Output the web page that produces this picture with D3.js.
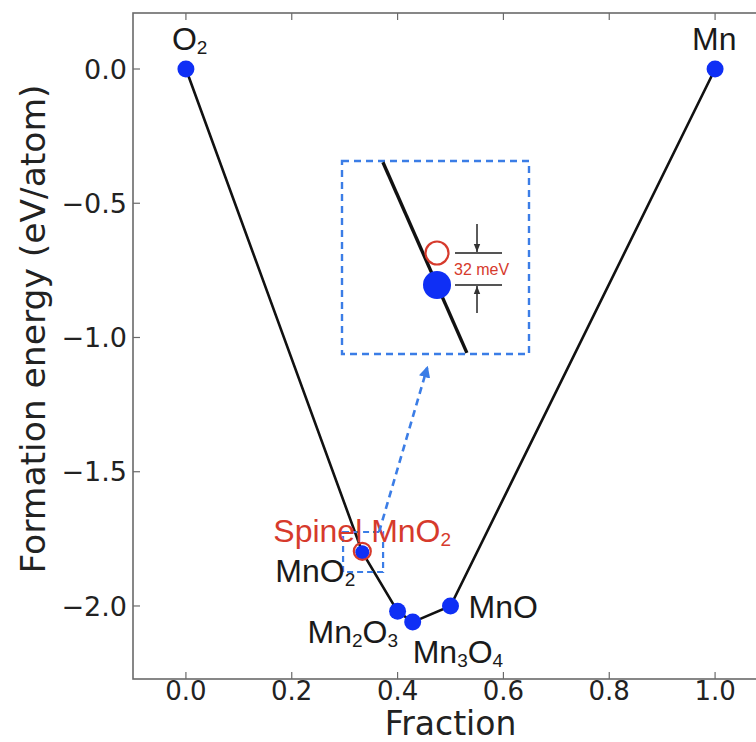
<!DOCTYPE html>
<html><head><meta charset="utf-8">
<script src="https://cdn.jsdelivr.net/npm/d3@7"></script>
<style>body{margin:0;background:#fff}svg{display:block}</style>
</head><body><svg id="c" width="756" height="742"></svg>
<script>
// ---- data ----
const names     = ["O2", "MnO2", "Mn2O3", "Mn3O4", "MnO", "Mn"];
const fractions = [0, 1/3, 0.4, 3/7, 0.5, 1.0];
const energies  = [0, -1.80, -2.02, -2.06, -2.00, 0];
const labelParts = {
  "O2":    [["O",0],["2",1]],
  "MnO2":  [["MnO",0],["2",1]],
  "Mn2O3": [["Mn",0],["2",1],["O",0],["3",1]],
  "Mn3O4": [["Mn",0],["3",1],["O",0],["4",1]],
  "MnO":   [["MnO",0]],
  "Mn":    [["Mn",0]]
};
const spinelLabel = [["Spinel MnO",0],["2",1]];
const spinelFraction = 1/3;
const spinelAboveHull = 0.032;           // eV/atom
const gapLabel = "32 meV";
const xTicks = [0.0, 0.2, 0.4, 0.6, 0.8, 1.0];
const yTicks = [0.0, -0.5, -1.0, -1.5, -2.0];
const xDomain = [-0.1, 1.1];
const yDomain = [-2.272, 0.2086];
const zoomBoxX = [0.297, 0.3726];         // region magnified in inset
const zoomBoxY = [-1.7244, -1.8734];
const insetXDomain = [0.2934, 0.3720];
const insetYDomain = [-1.676, -1.869];
const insetLineSpan = [0.3106, 0.3459];
const arrowFrom = [0.365, -1.7244];
const arrowTo   = [0.4558, -1.1136];

// ---- layout ----
const svg = d3.select("#c");
const L = 133, R = 768, T = 13, B = 679;
const x = d3.scaleLinear().domain(xDomain).range([L, R]);
const y = d3.scaleLinear().domain(yDomain).range([B, T]);
const blue = "#0f2ff5", red = "#d63a2c", dashBlue = "#3b7de6", spine = "#6a6a6a";
const tickFont = "'DejaVu Sans', sans-serif";
const labFont = "'Liberation Sans', Arial, sans-serif";

// label placement (pixel offsets from point)
const labelPos = {
  "O2":    [-14, -19],
  "Mn":    [-23, -19],
  "MnO2":  [-87, 30],
  "Mn2O3": [-90, 32],
  "Mn3O4": [0, 41],
  "MnO":   [18, 12]
};

// spines
svg.append("rect").attr("x", L).attr("y", T).attr("width", R - L).attr("height", B - T)
  .attr("fill", "none").attr("stroke", spine).attr("stroke-width", 1.6);

// ticks (inward on all sides)
const tl = 7;
xTicks.forEach(v => {
  svg.append("line").attr("x1", x(v)).attr("x2", x(v)).attr("y1", B).attr("y2", B - tl).attr("stroke", spine).attr("stroke-width", 1.2);
  svg.append("line").attr("x1", x(v)).attr("x2", x(v)).attr("y1", T).attr("y2", T + tl).attr("stroke", spine).attr("stroke-width", 1.2);
  svg.append("text").attr("x", x(v)).attr("y", B + 21).attr("text-anchor", "middle")
    .attr("font-family", tickFont).attr("font-size", 26).attr("fill", "#222").text(d3.format(".1f")(v));
});
yTicks.forEach(v => {
  svg.append("line").attr("x1", L).attr("x2", L + tl).attr("y1", y(v)).attr("y2", y(v)).attr("stroke", spine).attr("stroke-width", 1.2);
  svg.append("line").attr("x1", R).attr("x2", R - tl).attr("y1", y(v)).attr("y2", y(v)).attr("stroke", spine).attr("stroke-width", 1.2);
  svg.append("text").attr("x", L - 6).attr("y", y(v)).attr("dy", "0.36em").attr("text-anchor", "end")
    .attr("font-family", tickFont).attr("font-size", 27).attr("fill", "#222").text(d3.format(".1f")(v).replace("-", "\u2212"));
});

// axis titles
svg.append("text").attr("x", (x(0) + x(1)) / 2).attr("y", 734.5).attr("text-anchor", "middle")
  .attr("font-family", tickFont).attr("font-size", 33).attr("fill", "#222").text("Fraction");
svg.append("text").attr("transform", "translate(45," + 329 + ") rotate(-90)").attr("text-anchor", "middle")
  .attr("font-family", tickFont).attr("font-size", 34.5).attr("fill", "#222").text("Formation energy (eV/atom)");

// hull line
const pts = fractions.map((f, i) => [f, energies[i]]);
svg.append("path").datum(pts).attr("d", d3.line().x(d => x(d[0])).y(d => y(d[1])))
  .attr("fill", "none").attr("stroke", "#111").attr("stroke-width", 2.6);

// small dashed zoom box
svg.append("rect").attr("x", x(zoomBoxX[0])).attr("y", y(zoomBoxY[0]))
  .attr("width", x(zoomBoxX[1]) - x(zoomBoxX[0])).attr("height", y(zoomBoxY[1]) - y(zoomBoxY[0]))
  .attr("fill", "none").attr("stroke", dashBlue).attr("stroke-width", 2.2).attr("stroke-dasharray", "6,4");

// markers
const mno2Idx = names.indexOf("MnO2");
svg.selectAll("circle.pt").data(pts).join("circle").attr("class", "pt")
  .attr("cx", d => x(d[0])).attr("cy", d => y(d[1]))
  .attr("r", (d, i) => i === mno2Idx ? 7 : 8.5).attr("fill", blue);
// spinel ring (main plot, overlapping MnO2)
const mno2E = energies[mno2Idx];
svg.append("circle").attr("cx", x(spinelFraction)).attr("cy", y(mno2E) - 1).attr("r", 8.5)
  .attr("fill", "none").attr("stroke", red).attr("stroke-width", 2.2);

// labels with subscripts
function label(parts, px, py, color) {
  const t = svg.append("text").attr("x", px).attr("y", py).attr("font-family", labFont)
    .attr("font-size", 32).attr("fill", color);
  let prevSub = false;
  parts.forEach(([s, sub]) => {
    const ts = t.append("tspan").text(s);
    if (sub) { ts.attr("font-size", 19).attr("dy", 4); prevSub = true; }
    else if (prevSub) { ts.attr("dy", -4); prevSub = false; }
  });
}
names.forEach((n, i) => {
  const [dx, dy] = labelPos[n];
  label(labelParts[n], x(fractions[i]) + dx, y(energies[i]) + dy, "#1a1a1a");
});
label(spinelLabel, x(spinelFraction) - 89, y(mno2E) - 10, red);

// dashed arrow to inset
const defs = svg.append("defs");
defs.append("marker").attr("id", "ah").attr("viewBox", "0 0 10 10").attr("refX", 8).attr("refY", 5)
  .attr("markerWidth", 4.5).attr("markerHeight", 4.5).attr("orient", "auto")
  .append("path").attr("d", "M0,0 L10,5 L0,10 z").attr("fill", dashBlue);
svg.append("line").attr("x1", x(arrowFrom[0])).attr("y1", y(arrowFrom[1]))
  .attr("x2", x(arrowTo[0])).attr("y2", y(arrowTo[1]))
  .attr("stroke", dashBlue).attr("stroke-width", 2.6).attr("stroke-dasharray", "7,5").attr("marker-end", "url(#ah)");

// ---- inset ----
const ix = d3.scaleLinear().domain(insetXDomain).range([342, 529]);
const iy = d3.scaleLinear().domain(insetYDomain).range([161, 354]);
svg.append("rect").attr("x", ix.range()[0]).attr("y", iy.range()[0])
  .attr("width", ix.range()[1] - ix.range()[0]).attr("height", iy.range()[1] - iy.range()[0])
  .attr("fill", "none").attr("stroke", dashBlue).attr("stroke-width", 2.4).attr("stroke-dasharray", "7,5");
// hull segment O2 -> MnO2 extended through inset span
const f0 = fractions[0], e0 = energies[0], f1 = fractions[1], e1 = energies[1];
const hullAt = f => e0 + (e1 - e0) * (f - f0) / (f1 - f0);
svg.append("path").datum(insetLineSpan.map(f => [f, hullAt(f)]))
  .attr("d", d3.line().x(d => ix(d[0])).y(d => iy(d[1])))
  .attr("fill", "none").attr("stroke", "#111").attr("stroke-width", 3.4);
const spinelE = mno2E + spinelAboveHull;
svg.append("circle").attr("cx", ix(spinelFraction)).attr("cy", iy(spinelE)).attr("r", 11.5)
  .attr("fill", "#fff").attr("fill-opacity", 0.85).attr("stroke", red).attr("stroke-width", 2.2);
svg.append("circle").attr("cx", ix(spinelFraction)).attr("cy", iy(mno2E)).attr("r", 14).attr("fill", blue);
// energy gap markers
const cx0 = ix(spinelFraction);
[spinelE, mno2E].forEach(e => {
  svg.append("line").attr("x1", cx0 + 18).attr("x2", cx0 + 65).attr("y1", iy(e)).attr("y2", iy(e))
    .attr("stroke", "#555").attr("stroke-width", 2);
});
defs.append("marker").attr("id", "ah2").attr("viewBox", "0 0 10 10").attr("refX", 10).attr("refY", 5)
  .attr("markerWidth", 5).attr("markerHeight", 5).attr("orient", "auto")
  .append("path").attr("d", "M0,1 L10,5 L0,9 z").attr("fill", "#333");
const ax = cx0 + 40;
svg.append("line").attr("x1", ax).attr("x2", ax).attr("y1", iy(spinelE) - 29).attr("y2", iy(spinelE) - 1)
  .attr("stroke", "#333").attr("stroke-width", 1.6).attr("marker-end", "url(#ah2)");
svg.append("line").attr("x1", ax).attr("x2", ax).attr("y1", iy(mno2E) + 28).attr("y2", iy(mno2E) + 1)
  .attr("stroke", "#333").attr("stroke-width", 1.6).attr("marker-end", "url(#ah2)");
svg.append("text").attr("x", cx0 + 17).attr("y", (iy(spinelE) + iy(mno2E)) / 2 + 6)
  .attr("font-family", labFont).attr("font-size", 16).attr("fill", red).text(gapLabel);
</script></body></html>
